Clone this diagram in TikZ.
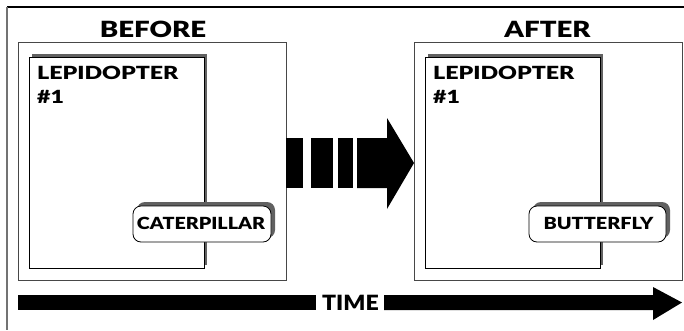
\documentclass[tikz,border=0pt]{standalone}
\usepackage{graphicx}
\usepackage{fontspec}
\setmainfont{Lato}[BoldFont={Lato Black}]
% widen a word horizontally by the given factor
\newcommand\widened[2]{\scalebox{#1}[1]{#2}}
\begin{document}
\begin{tikzpicture}[x=1pt,y=-1pt,
  frameline/.style={line width=1.2pt},
  panel/.style={draw=black!72, line width=0.9pt, fill=white},
  card/.style={draw=black, line width=0.8pt, fill=white},
  cardshadow/.style={fill=black!62},
  tag/.style={draw=black, line width=0.8pt, fill=white, rounded corners=8pt},
  heading/.style={font=\bfseries\fontsize{22.3}{24}\selectfont, inner sep=0pt, anchor=base},
  cardtext/.style={font=\bfseries\fontsize{18.1}{24}\selectfont, inner sep=0pt, anchor=base west},
  tagtext/.style={font=\bfseries\fontsize{16.7}{18}\selectfont, inner sep=0pt, anchor=base},
  solid black/.style={fill=black}
]
\useasboundingbox (0,0) rectangle (684,330);

% outer frame (top and left edges only)
\draw[frameline, black] (7,7) -- (684,7);
\draw[frameline, black!55] (7,7) -- (7,330);

% ---------- BEFORE panel ----------
\node[heading] (beforetitle) at (153,37) {\widened{1.24}{BEFORE}};
\draw[panel] (18,42) rectangle (286,280);
\coordinate (beforebox) at (286,163);
\fill[cardshadow] (32,54) rectangle (207,265);
\draw[card] (29,57) rectangle (204,268);
\node[cardtext] (beforename) at (37,79) {\widened{1.28}{LEPIDOPTER}};
\node[cardtext] (beforenum) at (37,103) {\widened{1.28}{\#1}};
\fill[cardshadow, rounded corners=8pt] (137,202) rectangle (275,238);
\draw[tag] (133,206) rectangle (271,242);
\node[tagtext] (caterpillar) at (201,229) {\widened{1.18}{CATERPILLAR}};

% ---------- AFTER panel ----------
\node[heading] (aftertitle) at (547.5,37) {\widened{1.24}{AFTER}};
\draw[panel] (414,42) rectangle (682,280);
\coordinate (afterbox) at (414,163);
\fill[cardshadow] (428,54) rectangle (603,265);
\draw[card] (425,57) rectangle (600,268);
\node[cardtext] (aftername) at (433,79) {\widened{1.28}{LEPIDOPTER}};
\node[cardtext] (afternum) at (433,103) {\widened{1.28}{\#1}};
\fill[cardshadow, rounded corners=8pt] (533,202) rectangle (670,238);
\draw[tag] (529,206) rectangle (666,242);
\node[tagtext] (butterfly) at (598.5,229) {\widened{1.19}{BUTTERFLY}};

% ---------- transition arrow between the panels ----------
\fill[solid black] (beforebox |- 0,138) rectangle (303,188);
\fill[solid black] (311,138) rectangle (333,188);
\fill[solid black] (338,138) rectangle (353,188);
\fill[solid black] (357,138) -- (387,138) -- (387,118) -- (afterbox) -- (387,209)
  -- (387,188) -- (357,188) -- cycle;

% ---------- time axis ----------
\node[heading, font=\bfseries\fontsize{21}{22}\selectfont] (timelabel) at (350.5,310) {\widened{1.1}{TIME}};
\fill[solid black] (18,295) rectangle (316,310);
\fill[solid black] (384,295) -- (653,295) -- (653,287) -- (682,302.5) -- (653,320)
  -- (653,310) -- (384,310) -- cycle;
\end{tikzpicture}
\end{document}
